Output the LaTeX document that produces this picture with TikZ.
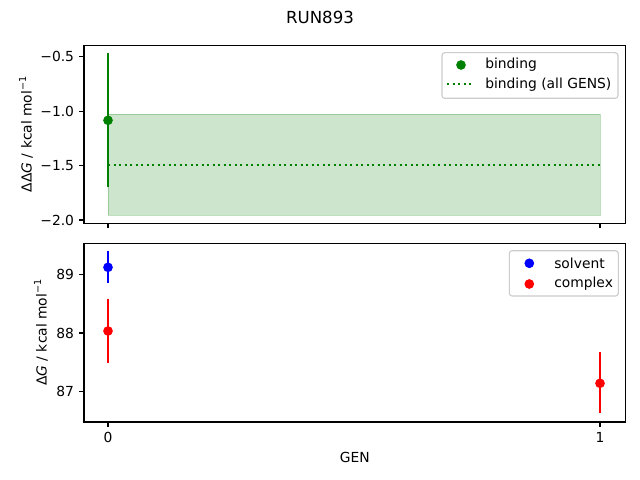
\documentclass[tikz,border=0pt]{standalone}
\usepackage{fontspec}
\setmainfont{DejaVu Sans}
\definecolor{mgreen}{RGB}{0,128,0}
\definecolor{mblue}{RGB}{0,0,255}
\definecolor{mred}{RGB}{255,0,0}
\definecolor{legedge}{RGB}{204,204,204}
\newcommand{\supm}{\raisebox{0.75ex}{\fontsize{7}{8}\selectfont −1}}
\begin{document}
\begin{tikzpicture}[x=0.01in,y=-0.01in,
  axisframe/.style={draw=black,line width=0.8pt},
  tickmark/.style={line width=0.8pt},
  ebar/.style={line width=1.5pt},
  datadot/.style={circle,inner sep=0pt,minimum size=7pt},
  lab/.style={font=\fontsize{10}{12}\selectfont,inner sep=0pt},
  legbox/.style={draw=legedge,line width=0.8pt,fill=white,fill opacity=0.8,rounded corners=2pt}]
\useasboundingbox[fill=white] (0,0) rectangle (640,480);
% title
\node[lab,font=\fontsize{12}{14}\selectfont] (title) at (320,17) {RUN893};
% ---------------- top axes ----------------
\fill[mgreen,opacity=0.2] (108,114) rectangle (600,215.3);
\draw[mgreen,draw opacity=0.25,line width=0.6pt] (108,114) rectangle (600,215.3);
\draw[mgreen,line width=1.5pt,dash pattern=on 1.5pt off 2.475pt] (108,165) -- (600,165);
\draw[ebar,mgreen] (108,53.3) -- (108,187.3);
\node[datadot,fill=mgreen] (bind0) at (108,120.3) {};
\draw[axisframe] (84,45.3) rectangle (625.6,223.3);
\foreach \v/\y in {−0.5/56.7,−1.0/111.1,−1.5/165.6,−2.0/220}{
  \draw[tickmark] (84,\y) -- (79.1,\y);
  \node[lab,anchor=east] at (74.3,\y) {\v};
}
\foreach \x in {108,600}{\draw[tickmark] (\x,223.3) -- (\x,228.2);}
\node[lab,rotate=90] (ylabtop) at (26,134.3) {ΔΔ\textit{G} / kcal mol\supm};
% legend top
\draw[legbox] (442,52.7) rectangle (618,98.3);
\node[datadot,fill=mgreen] (legbind) at (461,65) {};
\node[lab,anchor=west] (legbindt) at (485,65) {binding};
\draw[mgreen,line width=1.5pt,dash pattern=on 1.5pt off 2.475pt] (447,84.3) -- (471,84.3);
\node[lab,anchor=west] (legallt) at (485,84.3) {binding (all GENS)};
% ---------------- bottom axes ----------------
\draw[ebar,mblue] (108,251) -- (108,282.7);
\node[datadot,fill=mblue] (solv0) at (108,267.3) {};
\draw[ebar,mred] (108,299) -- (108,363.3);
\node[datadot,fill=mred] (comp0) at (108,331) {};
\draw[ebar,mred] (600,352.3) -- (600,413.3);
\node[datadot,fill=mred] (comp1) at (600,383.3) {};
\draw[axisframe] (84,243.3) rectangle (625.6,422);
\foreach \v/\y in {89/274.3,88/333,87/391.7}{
  \draw[tickmark] (84,\y) -- (79.1,\y);
  \node[lab,anchor=east] at (74.3,\y) {\v};
}
\foreach \x/\t in {108/0,600/1}{
  \draw[tickmark] (\x,422) -- (\x,426.9);
  \node[lab,anchor=north] at (\x,431.7) {\t};
}
\node[lab] (xlab) at (354.8,457) {GEN};
\node[lab,rotate=90] (ylabbot) at (41,332.6) {Δ\textit{G} / kcal mol\supm};
% legend bottom
\draw[legbox] (509.3,250.7) rectangle (618.3,296);
\node[datadot,fill=mblue] (legsolv) at (529.3,263.3) {};
\node[lab,anchor=west] (legsolvt) at (554,263.3) {solvent};
\node[datadot,fill=mred] (legcomp) at (529.3,284) {};
\node[lab,anchor=west] (legcompt) at (554,284) {complex};
\end{tikzpicture}
\end{document}
